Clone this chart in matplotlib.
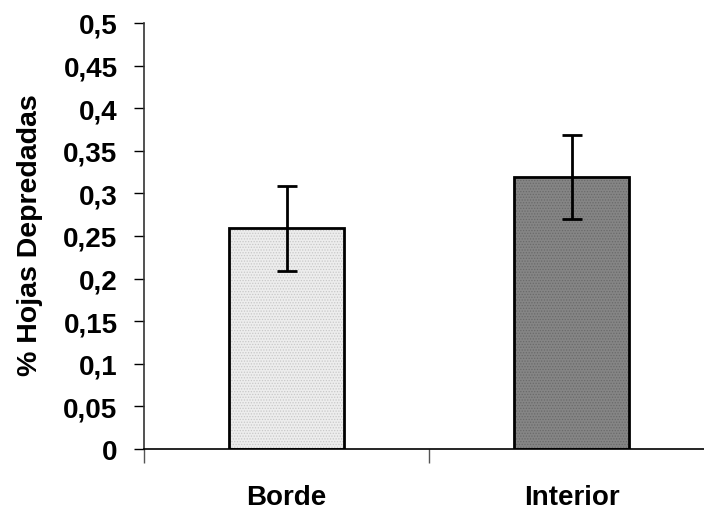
"""
Bar chart: % Hojas Depredadas, Borde vs Interior, with error bars.
"""

import matplotlib
matplotlib.use("Agg")
import matplotlib.pyplot as plt
from matplotlib.ticker import MultipleLocator, FuncFormatter

# Data
categories = ["Borde", "Interior"]
values = [0.259, 0.319]
errors = [0.050, 0.049]
fill_colors = ["#ededed", "#858585"]
dot_colors = ["#c8c8c8", "#6a6a6a"]

plt.rcParams["font.family"] = ["Liberation Sans", "DejaVu Sans"]
plt.rcParams["font.weight"] = "bold"
plt.rcParams["hatch.linewidth"] = 0.6

fig = plt.figure(figsize=(7.04, 5.10), dpi=100)
ax = fig.add_axes([144 / 704, 1 - 450 / 510, 570 / 704, 426 / 510])

x = [0.5, 1.5]
width = 0.405

# patterned fill (drawn first, without outline), then the black outline on top
for xi, v, fc, dc in zip(x, values, fill_colors, dot_colors):
    ax.bar(xi, v, width=width, color=fc, edgecolor=dc, hatch="......",
           linewidth=0, zorder=2)
ax.bar(x, values, width=width, facecolor="none", edgecolor="black",
       linewidth=2, zorder=3)
ax.errorbar(x, values, yerr=errors, fmt="none", ecolor="black",
            elinewidth=2, capsize=7, capthick=2, zorder=4)

ax.set_xlim(0, 2)
ax.set_ylim(0, 0.5)

# y axis
ax.yaxis.set_major_locator(MultipleLocator(0.05))
ax.yaxis.set_major_formatter(
    FuncFormatter(lambda v, _: ("%g" % round(v, 2)).replace(".", ",")))
ax.tick_params(axis="y", direction="out", length=7, width=1, color="black",
               labelsize=20, pad=12)

# x axis: tick marks at category boundaries, labels at centres
ax.set_xticks([0, 1, 2])
ax.set_xticklabels([])
ax.tick_params(axis="x", which="major", direction="out", length=10, width=1,
               color="#555555")
ax.set_xticks(x, minor=True)
ax.set_xticklabels(categories, minor=True, fontsize=20, fontweight="bold")
ax.tick_params(axis="x", which="minor", length=0, pad=25)

for s in ["top", "right"]:
    ax.spines[s].set_visible(False)
ax.spines["left"].set_color("#333333")
ax.spines["left"].set_linewidth(1.2)
ax.spines["bottom"].set_color("black")
ax.spines["bottom"].set_linewidth(1.2)

for lab in ax.get_yticklabels():
    lab.set_fontweight("bold")

fig.text(30 / 704, 1 - 235 / 510, "% Hojas Depredadas", rotation=90,
         ha="center", va="center", fontsize=20.5, fontweight="bold")

fig.savefig("out.png", dpi=100)
